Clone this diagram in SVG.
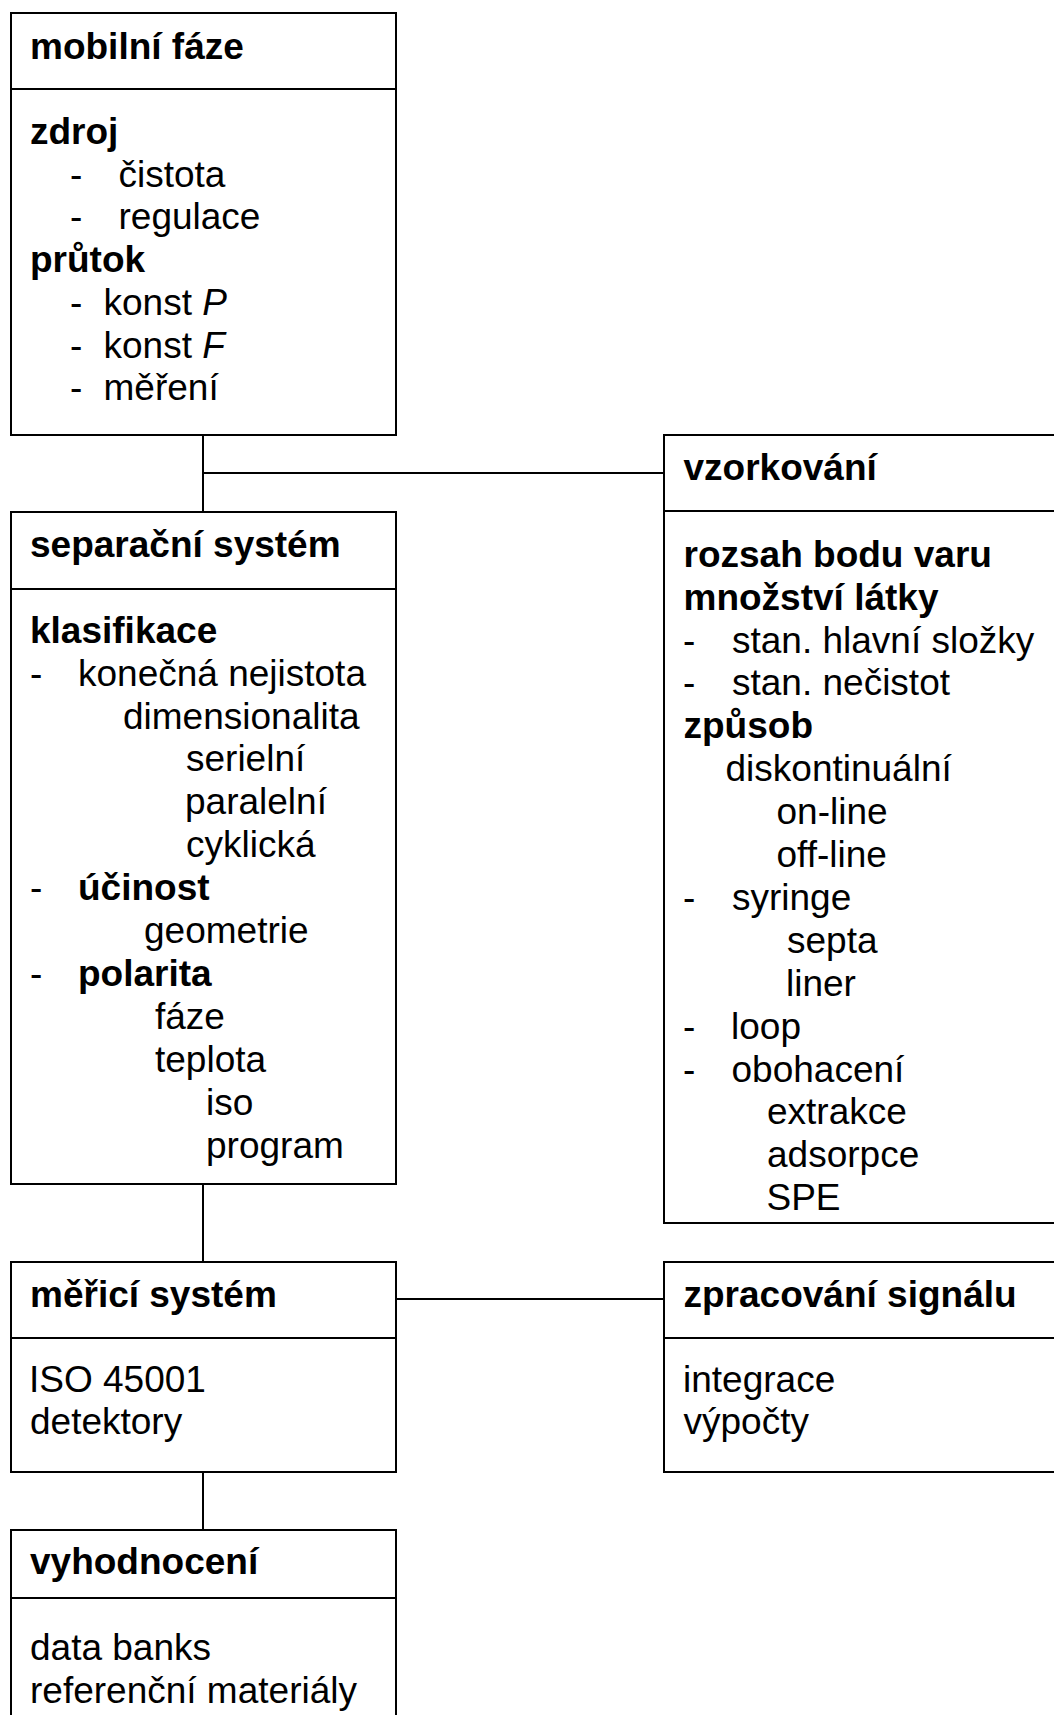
<svg xmlns="http://www.w3.org/2000/svg" width="1054" height="1715" viewBox="0 0 1054 1715">
  <style>
    .box { fill: #fff; stroke: #000; stroke-width: 2; }
    .div { stroke: #000; stroke-width: 2; }
    .wire { stroke: #000; stroke-width: 2; fill: none; }
    text { font-family: "Liberation Sans", Arial, sans-serif; font-size: 37px; fill: #000; }
    .b { font-weight: bold; }
    .i { font-style: italic; }
  </style>

  <!-- connectors -->
  <g id="connectors">
    <line class="wire" x1="203" y1="435" x2="203" y2="512"/>
    <line class="wire" x1="203" y1="473" x2="664" y2="473"/>
    <line class="wire" x1="203" y1="1184" x2="203" y2="1262"/>
    <line class="wire" x1="396" y1="1299" x2="664" y2="1299"/>
    <line class="wire" x1="203" y1="1472" x2="203" y2="1530"/>
  </g>

  <!-- mobile phase -->
  <g id="mobilni-faze">
    <rect class="box" x="11" y="13" width="385" height="422"/>
    <line class="div" x1="11" y1="89" x2="396" y2="89"/>
    <text class="b" x="30" y="59">mobilní fáze</text>
    <text class="b" x="30" y="144">zdroj</text>
    <text x="70" y="186.7">-</text><text x="118.5" y="186.7">čistota</text>
    <text x="70" y="229.4">-</text><text x="118.5" y="229.4">regulace</text>
    <text class="b" x="30" y="272">průtok</text>
    <text x="70" y="315">-</text><text x="103.5" y="315">konst <tspan class="i">P</tspan></text>
    <text x="70" y="357.7">-</text><text x="103.5" y="357.7">konst <tspan class="i">F</tspan></text>
    <text x="70" y="400.4">-</text><text x="103.5" y="400.4">měření</text>
  </g>

  <!-- separation system -->
  <g id="separacni-system">
    <rect class="box" x="11" y="512" width="385" height="672"/>
    <line class="div" x1="11" y1="589" x2="396" y2="589"/>
    <text class="b" x="30" y="557">separační systém</text>
    <text class="b" x="30" y="642.7">klasifikace</text>
    <text x="30" y="685.6">-</text><text x="78" y="685.6">konečná nejistota</text>
    <text x="123" y="728.5">dimensionalita</text>
    <text x="186" y="771.4">serielní</text>
    <text x="185" y="814.3">paralelní</text>
    <text x="186" y="857.2">cyklická</text>
    <text x="30" y="900.1">-</text><text class="b" x="78" y="900.1">účinost</text>
    <text x="144" y="943">geometrie</text>
    <text x="30" y="985.9">-</text><text class="b" x="78" y="985.9">polarita</text>
    <text x="155" y="1028.8">fáze</text>
    <text x="155" y="1071.7">teplota</text>
    <text x="206" y="1114.6">iso</text>
    <text x="206" y="1157.5">program</text>
  </g>

  <!-- measuring system -->
  <g id="merici-system">
    <rect class="box" x="11" y="1262" width="385" height="210"/>
    <line class="div" x1="11" y1="1338" x2="396" y2="1338"/>
    <text class="b" x="30" y="1307">měřicí systém</text>
    <text x="29" y="1391.7">ISO 45001</text>
    <text x="30" y="1434.4">detektory</text>
  </g>

  <!-- evaluation -->
  <g id="vyhodnoceni">
    <rect class="box" x="11" y="1530" width="385" height="200"/>
    <line class="div" x1="11" y1="1598" x2="396" y2="1598"/>
    <text class="b" x="30" y="1574">vyhodnocení</text>
    <text x="30" y="1660">data banks</text>
    <text x="30" y="1703">referenční materiály</text>
  </g>

  <!-- sampling -->
  <g id="vzorkovani">
    <rect class="box" x="664" y="435" width="410" height="788"/>
    <line class="div" x1="664" y1="511" x2="1074" y2="511"/>
    <text class="b" x="683.5" y="480">vzorkování</text>
    <text class="b" x="683.5" y="566.7">rozsah bodu varu</text>
    <text class="b" x="683.5" y="609.6">množství látky</text>
    <text x="683" y="652.5">-</text><text x="732" y="652.5">stan. hlavní složky</text>
    <text x="683" y="695.4">-</text><text x="732" y="695.4">stan. nečistot</text>
    <text class="b" x="683.5" y="738.3">způsob</text>
    <text x="725.5" y="781.2">diskontinuální</text>
    <text x="776.5" y="824.1">on-line</text>
    <text x="776.5" y="867">off-line</text>
    <text x="683" y="909.9">-</text><text x="732" y="909.9">syringe</text>
    <text x="787" y="952.8">septa</text>
    <text x="786" y="995.7">liner</text>
    <text x="683" y="1038.6">-</text><text x="731" y="1038.6">loop</text>
    <text x="683" y="1081.5">-</text><text x="731.5" y="1081.5">obohacení</text>
    <text x="767" y="1124.4">extrakce</text>
    <text x="767" y="1167.3">adsorpce</text>
    <text x="766.5" y="1210.2">SPE</text>
  </g>

  <!-- signal processing -->
  <g id="zpracovani-signalu">
    <rect class="box" x="664" y="1262" width="410" height="210"/>
    <line class="div" x1="664" y1="1338" x2="1074" y2="1338"/>
    <text class="b" x="683.5" y="1307">zpracování signálu</text>
    <text x="683" y="1391.7">integrace</text>
    <text x="683.5" y="1434.4">výpočty</text>
  </g>
</svg>
